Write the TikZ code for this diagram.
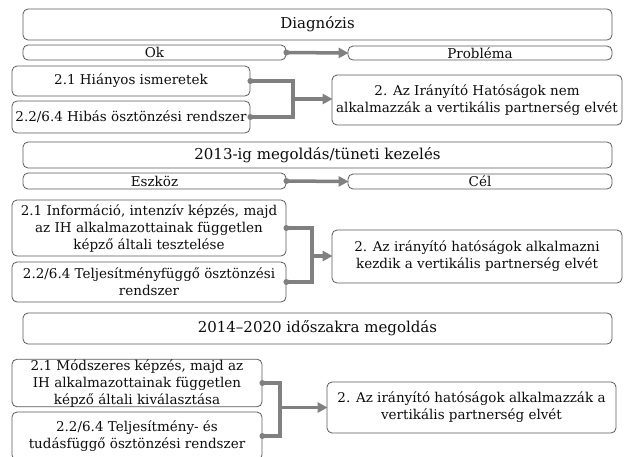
\documentclass[tikz,border=0pt]{standalone}
\usepackage{fontspec}
\setmainfont{DejaVu Serif}
\usetikzlibrary{arrows.meta}
\definecolor{edge}{HTML}{5A5A5A}
\definecolor{link}{HTML}{808080}
\definecolor{ink}{HTML}{0D0D0D}
\tikzset{
  box/.style={draw=edge, line width=0.8pt, rounded corners=5pt, fill=white,
    inner sep=0pt, align=center, text=ink, font=\fontsize{13.5}{17}\selectfont},
  head/.style={box, font=\fontsize{15}{17}\selectfont},
  tag/.style={box, font=\fontsize{13.5}{15}\selectfont},
  wire/.style={draw=link, line width=3.5pt},
  pointer/.style={wire, -{Triangle[length=10pt,width=10pt]}, shorten >=-1pt},
  dot/.style={fill=link},
}
\newcommand{\boxat}[6]{%
  \node[#1, minimum width=#4pt, minimum height=#5pt] (#2) at (#3) {#6};}
\begin{document}
\begin{tikzpicture}[x=1pt, y=-1pt]
\useasboundingbox (0,0) rectangle (628,456);
\clip (0,0) rectangle (628,456);

% --- Diagnózis ---
\boxat{head}{diag}{317.5,24.5}{589}{31}{Diagnózis}
\boxat{tag}{ok}{154.5,52.5}{263}{15}{Ok}
\boxat{tag}{prob}{480,53}{264}{14}{Probléma}
\boxat{box}{hi}{131,81}{238}{30}{2.1 Hiányos ismeretek}
\boxat{box}{hib}{131,117}{238}{32}{2.2/6.4 Hibás ösztönzési rendszer}
\boxat{box}{ra}{477,100}{290}{50}{2. Az Irányító Hatóságok nem\\alkalmazzák a vertikális partnerség elvét}

\draw[pointer] (ok.east) -- (prob.west);
\fill[dot] (ok.east) circle (3);
\coordinate (ja) at (293,99);
\draw[wire] (hi.east) -| (ja |- hib.east) -- (hib.east);
\draw[pointer] (ja) -- (ja -| ra.west);
\fill[dot] (hi.east) circle (3);
\fill[dot] (hib.east) circle (3);

% --- 2013-ig ---
\boxat{head}{secb}{317.5,155}{589}{26}{2013-ig megoldás/tüneti kezelés}
\boxat{tag}{esz}{154.5,181}{263}{16}{Eszköz}
\boxat{tag}{cel}{480,181.5}{264}{15}{Cél}
\boxat{box}{inf}{149,228}{274}{56}{2.1 Információ, intenzív képzés, majd\\az IH alkalmazottainak független\\képző általi tesztelése}
\boxat{box}{telj}{149,282}{274}{40}{2.2/6.4 Teljesítményfüggő ösztönzési\\rendszer}
\boxat{box}{rb}{477,256.5}{290}{53}{2. Az irányító hatóságok alkalmazni\\kezdik a vertikális partnerség elvét}

\draw[pointer] (esz.east) -- (cel.west);
\fill[dot] (esz.east) circle (3);
\coordinate (jb) at (312,256);
\draw[wire] (inf.east) -| (jb |- telj.east) -- (telj.east);
\draw[pointer] (jb) -- (jb -| rb.west);
\fill[dot] (inf.east) circle (3);
\fill[dot] (telj.east) circle (3);

% --- 2014–2020 ---
\boxat{head}{secc}{317.5,328.5}{589}{31}{2014–2020 időszakra megoldás}
\boxat{box}{mod}{137,383}{250}{46}{2.1 Módszeres képzés, majd az\\IH alkalmazottainak független\\képző általi kiválasztása}
\boxat{box}{tud}{137,436}{250}{48}{2.2/6.4 Teljesítmény- és\\tudásfüggő ösztönzési rendszer}
\boxat{box}{rc}{471.5,407.5}{289}{51}{2. Az irányító hatóságok alkalmazzák a\\vertikális partnerség elvét}

\coordinate (jc) at (280,407.5);
\draw[wire] (mod.east) -| (jc |- tud.east) -- (tud.east);
\draw[pointer] (jc) -- (jc -| rc.west);
\fill[dot] (mod.east) circle (3);
\fill[dot] (tud.east) circle (3);
\end{tikzpicture}
\end{document}
